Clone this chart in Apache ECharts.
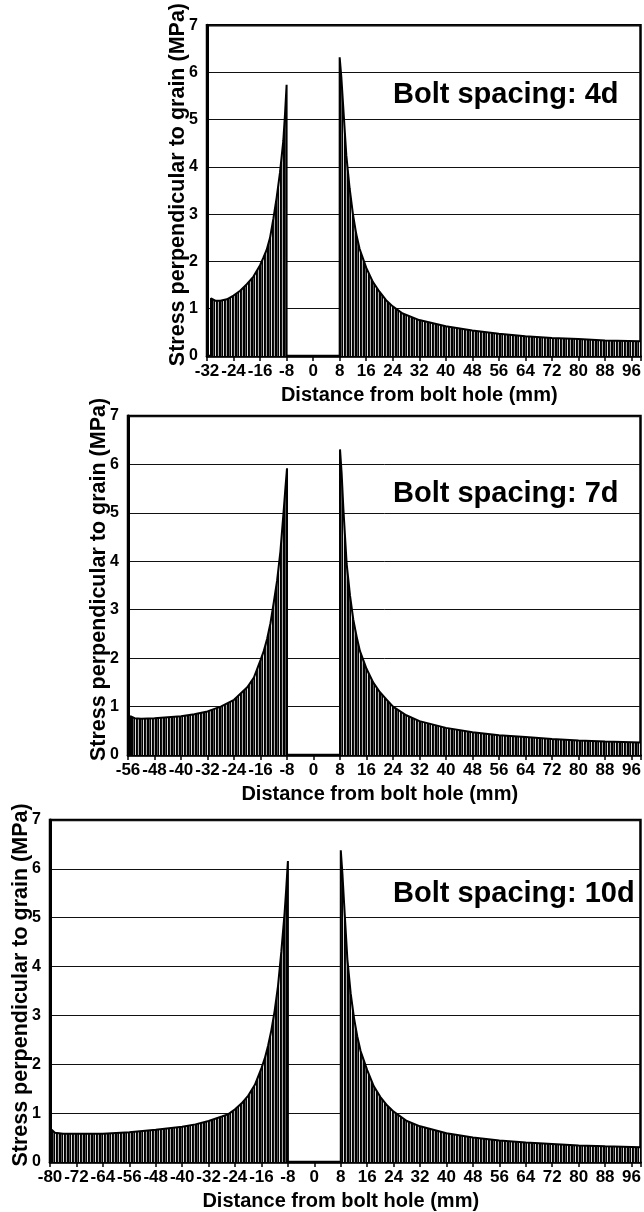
<!DOCTYPE html>
<html>
<head>
<meta charset="utf-8">
<title>Bolt spacing stress</title>
<script src="https://cdn.jsdelivr.net/npm/echarts/dist/echarts.min.js"></script>
<style>
  html, body { margin: 0; padding: 0; background: #fff; }
  #chart { width: 644px; height: 1212px; }
</style>
</head>
<body>
<div id="chart"></div>
<script>
// panel labels
var spacingLabels = ['Bolt spacing: 4d', 'Bolt spacing: 7d', 'Bolt spacing: 10d']
var xMins = [-32, -56, -80]
var xMax = 98.7

// 4d - left of hole / right of hole (mm, MPa)
var p1LeftX = [-30.8, -30.8, -29.5, -28, -26, -24, -22, -20, -18, -16, -15, -14, -13, -12, -11, -10, -9, -8.5, -8, -8]
var p1LeftY = [0, 1.22, 1.17, 1.17, 1.2, 1.28, 1.38, 1.52, 1.68, 1.92, 2.08, 2.25, 2.5, 2.9, 3.35, 3.88, 4.55, 5.1, 5.74, 0]
var p1RightX = [8, 8, 8.5, 9, 10, 11, 12, 13, 14, 16, 18, 20, 22, 24, 27, 32, 40, 48, 56, 64, 72, 80, 88, 98.7]
var p1RightY = [0, 6.32, 5.9, 5.35, 4.25, 3.55, 3.0, 2.58, 2.27, 1.87, 1.57, 1.36, 1.18, 1.05, 0.9, 0.76, 0.63, 0.54, 0.47, 0.42, 0.38, 0.36, 0.33, 0.31]

// 7d
var p2LeftX = [-55.3, -55.3, -54, -52, -48, -44, -40, -36, -32, -28, -24, -20, -18, -16, -15, -14, -13, -12, -11, -10, -9, -8.5, -8, -8]
var p2LeftY = [0, 0.8, 0.76, 0.75, 0.76, 0.78, 0.8, 0.84, 0.9, 1.0, 1.14, 1.4, 1.6, 1.96, 2.15, 2.4, 2.72, 3.15, 3.6, 4.2, 5.05, 5.5, 5.92, 0]
var p2RightX = [8, 8, 8.5, 9, 10, 11, 12, 13, 14, 16, 18, 20, 22, 24, 28, 32, 40, 48, 56, 64, 72, 80, 88, 98.7]
var p2RightY = [0, 6.31, 5.8, 5.1, 3.95, 3.3, 2.8, 2.45, 2.15, 1.78, 1.5, 1.3, 1.15, 1.0, 0.82, 0.7, 0.56, 0.47, 0.41, 0.37, 0.33, 0.3, 0.28, 0.26]

// 10d
var p3LeftX = [-79.5, -79.5, -78.5, -76, -72, -64, -56, -48, -40, -36, -32, -28, -26, -24, -22, -20, -18, -16, -15, -14, -13, -12, -11, -10, -9, -8.5, -8, -8]
var p3LeftY = [0, 0.66, 0.6, 0.58, 0.58, 0.58, 0.61, 0.66, 0.72, 0.77, 0.84, 0.93, 0.98, 1.08, 1.2, 1.36, 1.58, 1.92, 2.12, 2.38, 2.7, 3.1, 3.6, 4.3, 5.1, 5.6, 6.16, 0]
var p3RightX = [8, 8, 8.5, 9, 10, 11, 12, 13, 14, 16, 18, 20, 22, 24, 28, 32, 40, 48, 56, 64, 72, 80, 88, 98.7]
var p3RightY = [0, 6.38, 5.9, 5.3, 4.15, 3.45, 2.95, 2.57, 2.27, 1.88, 1.55, 1.33, 1.16, 1.03, 0.84, 0.73, 0.59, 0.5, 0.44, 0.4, 0.37, 0.34, 0.32, 0.3]

var font = '"Liberation Sans", Arial, Helvetica, sans-serif'

// grid boxes (px)
var grids = [
  { left: 207, top: 21, width: 435, height: 335 },
  { left: 128, top: 416, width: 514, height: 339 },
  { left: 50, top: 820, width: 592, height: 342 }
]
var labelTops = [80, 479, 879]

function pairs(xs, ys) {
  return xs.map(function (x, i) { return [x, ys[i]] })
}

// vertical hatch used as fill
var hatchCols = ['#000', '#111', '#aaa', '#000', '#000', '#555', '#000', '#ddd']
var hatch = document.createElement('canvas')
hatch.width = hatchCols.length
hatch.height = 4
var hctx = hatch.getContext('2d')
hatchCols.forEach(function (c, i) {
  hctx.fillStyle = c
  hctx.fillRect(i, 0, 1, 4)
})

var panels = [
  [pairs(p1LeftX, p1LeftY), pairs(p1RightX, p1RightY)],
  [pairs(p2LeftX, p2LeftY), pairs(p2RightX, p2RightY)],
  [pairs(p3LeftX, p3LeftY), pairs(p3RightX, p3RightY)]
]

var option = {
  backgroundColor: '#fff',
  animation: false,
  textStyle: { fontFamily: font },
  title: spacingLabels.map(function (t, i) {
    return {
      text: t,
      left: 393,
      top: labelTops[i],
      padding: 0,
      textStyle: { fontSize: 29, fontWeight: 'bold', color: '#000', fontFamily: font }
    }
  }),
  grid: grids.map(function (g) {
    return {
      left: g.left, top: g.top, width: g.width, height: g.height,
      show: true,
      borderColor: '#000',
      borderWidth: 2.5,
      backgroundColor: 'transparent'
    }
  }),
  xAxis: grids.map(function (g, i) {
    return {
      type: 'value',
      gridIndex: i,
      min: xMins[i],
      max: xMax,
      interval: 8,
      name: 'Distance from bolt hole (mm)',
      nameLocation: 'middle',
      nameGap: 29,
      nameMoveOverlap: false,
      nameTextStyle: { fontSize: 20, fontWeight: 'bold', color: '#000', fontFamily: font, padding: [0, 9, 0, 0] },
      axisLine: { onZero: false, lineStyle: { color: '#000', width: 2.5 } },
      axisTick: { show: true, length: 5, lineStyle: { color: '#000', width: 1.5 } },
      axisLabel: {
        fontSize: 17, fontWeight: 'bold', color: '#000', margin: 7, fontFamily: font,
        formatter: function (v) { return v % 8 === 0 ? String(v) : '' }
      },
      splitLine: { show: false }
    }
  }),
  yAxis: grids.map(function (g, i) {
    return {
      type: 'value',
      gridIndex: i,
      min: 0,
      max: 7,
      interval: 1,
      name: 'Stress perpendicular to grain (MPa)',
      nameLocation: 'middle',
      nameRotate: 90,
      nameGap: 18,
      nameMoveOverlap: false,
      nameTextStyle: { fontSize: 21.5, fontWeight: 'bold', color: '#000', fontFamily: font, padding: [0, 0, 0, 12] },
      axisLine: { show: true, onZero: false, lineStyle: { color: '#000', width: 3 } },
      axisTick: { show: false },
      axisLabel: { fontSize: 16, fontWeight: 'bold', color: '#000', margin: 9, fontFamily: font },
      splitLine: { show: true, lineStyle: { color: '#111', width: 1 } }
    }
  }),
  series: []
}

panels.forEach(function (p, i) {
  p.forEach(function (part) {
    option.series.push({
      type: 'line',
      xAxisIndex: i,
      yAxisIndex: i,
      data: part,
      showSymbol: false,
      lineStyle: { color: '#000', width: 2 },
      areaStyle: { color: { image: hatch, repeat: 'repeat' }, opacity: 1 }
    })
  })
})

var chart = echarts.init(document.getElementById('chart'))
chart.setOption(option)
</script>
</body>
</html>
